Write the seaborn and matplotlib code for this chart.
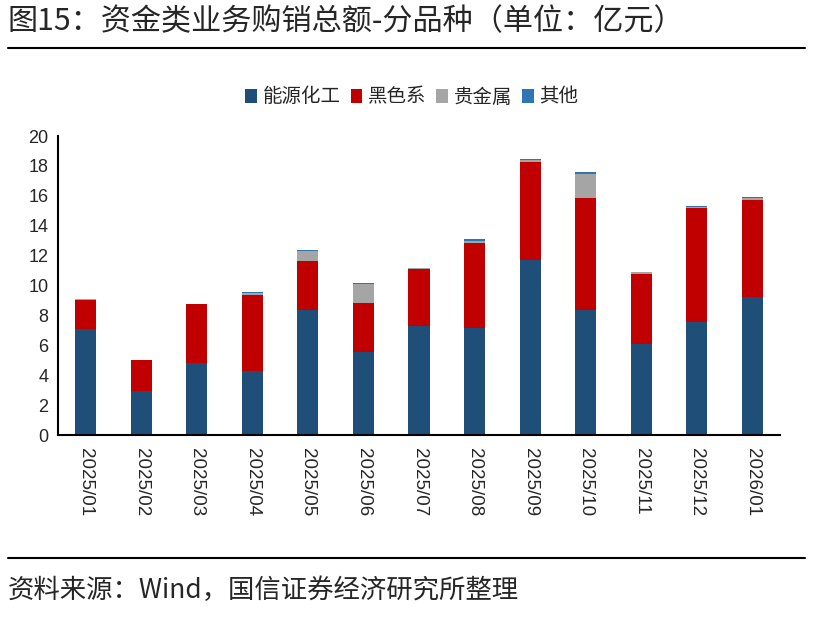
import numpy as np
import pandas as pd
import seaborn as sns
from matplotlib import pyplot as plt
from matplotlib.lines import Line2D
from matplotlib.patches import Patch

months = ['2025/01', '2025/02', '2025/03', '2025/04', '2025/05', '2025/06', '2025/07',
          '2025/08', '2025/09', '2025/10', '2025/11', '2025/12', '2026/01']
energy = [7.06, 2.94, 4.79, 4.30, 8.35, 5.54, 7.30, 7.15, 11.69, 8.35, 6.10, 7.55, 9.24]
ferrous = [2.00, 2.07, 3.94, 5.07, 3.27, 3.32, 3.83, 5.72, 6.57, 7.48, 4.70, 7.64, 6.50]
precious = [0.03, 0.02, 0.02, 0.15, 0.69, 1.23, 0.02, 0.11, 0.12, 1.60, 0.08, 0.08, 0.10]
others = [0.03, 0.02, 0.02, 0.03, 0.07, 0.05, 0.02, 0.10, 0.06, 0.16, 0.05, 0.04, 0.05]

names = ['能源化工', '黑色系', '贵金属', '其他']
colors = ['#1F4E79', '#C00000', '#A5A5A5', '#2E75B6']

sns.set_style('white')
plt.rcParams['font.family'] = ['Noto Sans CJK SC', 'DejaVu Sans']

df = pd.DataFrame({'月份': months, names[0]: energy, names[1]: ferrous,
                   names[2]: precious, names[3]: others})
cum = df[names].cumsum(axis=1)
cum['月份'] = df['月份']

fig = plt.figure(figsize=(8.23, 6.18), dpi=100)
ax = fig.add_axes([58/823, 1-435/618, (780-58)/823, (435-136)/618])

# stacked bars: draw cumulative totals from the top layer down
for i in range(len(names)-1, -1, -1):
    sns.barplot(data=cum, x='月份', y=names[i], color=colors[i], width=0.38,
                saturation=1, order=months, ax=ax, linewidth=0)

ax.set_ylim(0, 20)
ax.set_yticks(np.arange(0, 21, 2))
ax.set_xlim(-0.5, len(months)-0.5)
ax.set_xlabel('')
ax.set_ylabel('')
ax.set_xticks(range(len(months)))
ax.set_xticklabels(months, rotation=-90, fontfamily='Liberation Sans', fontsize=13.5)
ax.set_xticks(np.arange(-0.5, len(months), 1), minor=True)
ax.tick_params(axis='x', which='major', length=0, pad=9)
ax.tick_params(axis='x', which='minor', direction='in', length=6, width=1.5, color='black')
ax.tick_params(axis='y', direction='in', length=6, width=1.5, color='black', pad=7,
               labelsize=13)
for lab in ax.get_yticklabels():
    lab.set_fontfamily('Liberation Sans')
sns.despine(ax=ax)
for s in ['left', 'bottom']:
    ax.spines[s].set_color('black')
    ax.spines[s].set_linewidth(1.5)

handles = [Patch(facecolor=c, edgecolor='none') for c in colors]
fig.legend(handles, names, loc='center', bbox_to_anchor=(412/823, 1-97/618), ncol=4,
           frameon=False, fontsize=14, handlelength=0.6, handleheight=0.7,
           handletextpad=0.3, columnspacing=0.5)

fig.text(8/823, 1-22/618, '图15：资金类业务购销总额-分品种（单位：亿元）', fontsize=21.7,
         va='center', ha='left')
fig.add_artist(Line2D([8/823, 805/823], [1-48/618, 1-48/618], color='black', lw=1.5))
fig.add_artist(Line2D([8/823, 805/823], [1-558/618, 1-558/618], color='black', lw=1.5))
fig.text(8/823, 1-590/618, '资料来源：Wind，国信证券经济研究所整理', fontsize=19,
         va='center', ha='left')

fig.savefig('out.png', dpi=100)
